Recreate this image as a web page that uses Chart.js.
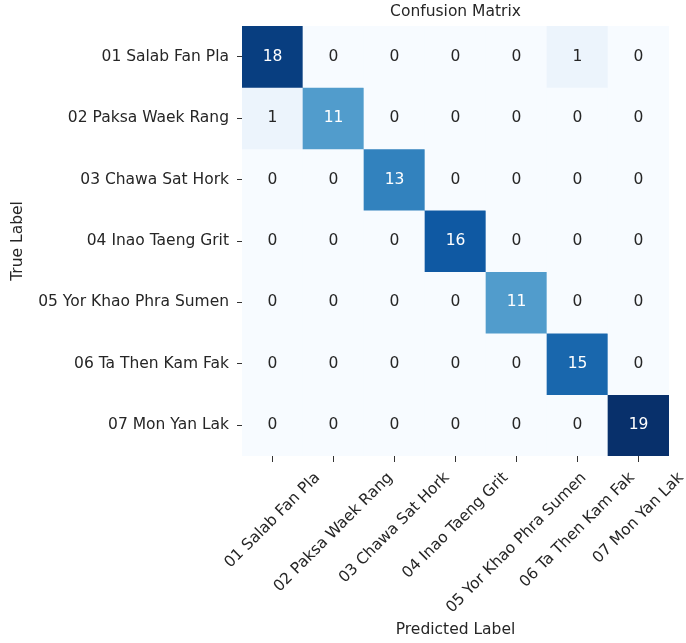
<!DOCTYPE html>
<html>
<head>
<meta charset="utf-8">
<script src="https://cdn.jsdelivr.net/npm/chart.js@4/dist/chart.umd.min.js"></script>
<style>
  html, body { margin: 0; padding: 0; background: #fff; }
  #wrap { width: 686px; height: 643px; }
</style>
</head>
<body>
<div id="wrap"><canvas id="cm"></canvas></div>
<script>
const predictedLabels = ["01 Salab Fan Pla", "02 Paksa Waek Rang", "03 Chawa Sat Hork", "04 Inao Taeng Grit", "05 Yor Khao Phra Sumen", "06 Ta Then Kam Fak", "07 Mon Yan Lak"];
const trueLabels = ["01 Salab Fan Pla", "02 Paksa Waek Rang", "03 Chawa Sat Hork", "04 Inao Taeng Grit", "05 Yor Khao Phra Sumen", "06 Ta Then Kam Fak", "07 Mon Yan Lak"];
const row1 = [18, 0, 0, 0, 0, 1, 0];
const row2 = [1, 11, 0, 0, 0, 0, 0];
const row3 = [0, 0, 13, 0, 0, 0, 0];
const row4 = [0, 0, 0, 16, 0, 0, 0];
const row5 = [0, 0, 0, 0, 11, 0, 0];
const row6 = [0, 0, 0, 0, 0, 15, 0];
const row7 = [0, 0, 0, 0, 0, 0, 19];
const matrix = [row1, row2, row3, row4, row5, row6, row7];

// matplotlib "Blues"
const blues = ["#f7fbff", "#deebf7", "#c6dbef", "#9ecae1", "#6baed6", "#4292c6", "#2171b5", "#08519c", "#08306b"];
const vmax = Math.max(...matrix.flat());

function hexRgb(h) {
  return [parseInt(h.slice(1, 3), 16), parseInt(h.slice(3, 5), 16), parseInt(h.slice(5, 7), 16)];
}
function blueRgb(v) {
  const t = Math.min(Math.max(v / vmax, 0), 1) * (blues.length - 1);
  const i = Math.min(Math.floor(t), blues.length - 2);
  const f = t - i;
  const a = hexRgb(blues[i]), b = hexRgb(blues[i + 1]);
  return a.map((c, k) => Math.round(c + (b[k] - c) * f));
}
function rgbStr(c) { return `rgb(${c[0]}, ${c[1]}, ${c[2]})`; }
function textColor(v) {
  const lin = blueRgb(v).map(c => { c /= 255; return c <= 0.03928 ? c / 12.92 : Math.pow((c + 0.055) / 1.055, 2.4); });
  const lum = 0.2126 * lin[0] + 0.7152 * lin[1] + 0.0722 * lin[2];
  return lum > 0.408 ? "#262626" : "#ffffff";
}

const font = "'DejaVu Sans', sans-serif";
const fs = 15.5;
const ink = "#262626";

const datasets = matrix.map((row, i) => ({
  label: trueLabels[i],
  data: row.map(() => 1),
  backgroundColor: row.map(v => rgbStr(blueRgb(v))),
  borderWidth: 0,
  barPercentage: 1,
  categoryPercentage: 1
}));

// cell values
const annotate = {
  id: "annotate",
  afterDatasetsDraw(chart) {
    const { ctx, scales: { x, y } } = chart;
    ctx.save();
    ctx.font = fs + "px " + font;
    ctx.textAlign = "center";
    ctx.textBaseline = "middle";
    matrix.forEach((row, i) => {
      row.forEach((v, j) => {
        ctx.fillStyle = textColor(v);
        ctx.fillText(String(v), x.getPixelForValue(j), y.getPixelForValue(i + 0.5));
      });
    });
    ctx.restore();
  }
};

// title centred over the cells, x labels rotated and centred under their tick
const extras = {
  id: "extras",
  afterDraw(chart) {
    const { ctx, chartArea, scales: { x } } = chart;
    ctx.save();
    ctx.font = fs + "px " + font;
    ctx.fillStyle = ink;
    ctx.textAlign = "center";
    ctx.textBaseline = "middle";
    ctx.fillText("Confusion Matrix", (chartArea.left + chartArea.right) / 2, 12);
    predictedLabels.forEach((lab, j) => {
      const half = (ctx.measureText(lab).width + fs * 1.16) / (2 * Math.SQRT2);
      ctx.save();
      ctx.translate(x.getPixelForValue(j), x.top + 13 + half);
      ctx.rotate(-Math.PI / 4);
      ctx.fillText(lab, 0, 0);
      ctx.restore();
    });
    ctx.restore();
  }
};

new Chart(document.getElementById("cm"), {
  type: "bar",
  data: { labels: predictedLabels, datasets: datasets },
  plugins: [annotate, extras],
  options: {
    responsive: true,
    maintainAspectRatio: false,
    animation: false,
    layout: { padding: { left: 0, right: 17, top: 26, bottom: 0 } },
    plugins: {
      legend: { display: false },
      tooltip: { enabled: false },
      title: { display: false }
    },
    scales: {
      x: {
        stacked: true,
        offset: true,
        grid: { display: true, drawOnChartArea: false, offset: false, tickLength: 6, tickColor: "#333", lineWidth: 1 },
        border: { display: false },
        ticks: { display: false, autoSkip: false },
        title: { display: true, text: "Predicted Label", color: ink, font: { family: font, size: fs }, padding: { top: 0, bottom: 4 } },
        afterFit(axis) { axis.height = 187; }
      },
      y: {
        stacked: true,
        reverse: true,
        min: 0,
        max: trueLabels.length,
        grid: { display: true, drawOnChartArea: false, tickLength: 5, tickColor: "#333", lineWidth: 1 },
        border: { display: false },
        afterBuildTicks(axis) { axis.ticks = trueLabels.map((_, i) => ({ value: i + 0.5 })); },
        ticks: {
          color: ink,
          font: { family: font, size: fs },
          padding: 8,
          callback: v => trueLabels[Math.floor(v)]
        },
        title: { display: true, text: "True Label", color: ink, font: { family: font, size: fs }, padding: { top: 9, bottom: 0 } },
        afterFit(axis) { axis.width = 242; }
      }
    }
  }
});
</script>
</body>
</html>
